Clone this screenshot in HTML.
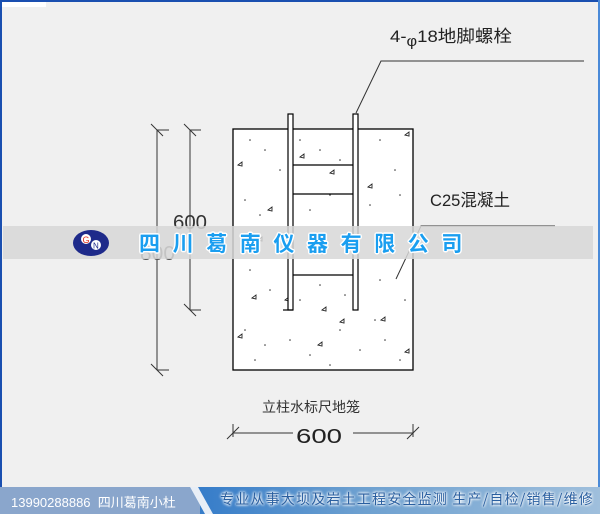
<!DOCTYPE html>
<html><head><meta charset="utf-8"><style>
html,body{margin:0;padding:0}
body{width:600px;height:514px;position:relative;overflow:hidden;background:#f0f0f0;font-family:"Liberation Sans","Noto Sans CJK SC",sans-serif}
.bl{position:absolute;background:#1a4fb0}
.banner{position:absolute;left:3px;top:226px;width:590px;height:33px;background:rgba(215,215,215,0.85)}
.bt{position:absolute;top:228px;left:139px;font:bold 21px "WenQuanYi Zen Hei","Noto Sans CJK SC",sans-serif;color:#1a9ef0;letter-spacing:12.6px;text-shadow:-1.5px 0 #fff,1.5px 0 #fff,0 -1.5px #fff,0 1.5px #fff,-1px -1px #fff,1px 1px #fff,-1px 1px #fff,1px -1px #fff;white-space:nowrap}
.foot{position:absolute;left:0;top:487px;width:600px;height:27px;background:linear-gradient(90deg,#2f78c8 30%,#6da0d0 60%,#9fbfdc 100%)}
.fl{position:absolute;left:0;top:487px;width:200px;height:27px;background:#8aa6cc;clip-path:polygon(0 0,190px 0,205px 27px,0 27px)}
.fs{position:absolute;left:0;top:487px;width:230px;height:27px;background:#e8eef6;clip-path:polygon(190px 0,198px 0,213px 27px,205px 27px)}
.ft{position:absolute;top:492px;font-size:13px;color:#fff;white-space:nowrap}
.fr{position:absolute;top:489px;left:220px;font:14px "Noto Sans CJK SC",sans-serif;letter-spacing:1.2px;color:#2a5fa0;white-space:nowrap;text-shadow:0 0 3px #fff,0 0 3px #fff,0 0 2px #fff}
</style></head><body>
<div class="bl" style="left:0;top:0;width:600px;height:2px"></div>
<div class="bl" style="left:0;top:0;width:2px;height:514px"></div>
<div class="bl" style="right:0;top:0;width:2px;height:514px;background:#4a8ad8"></div>
<div style="position:absolute;left:2px;top:2px;width:44px;height:5px;background:#fff"></div>
<svg width="600" height="514" style="position:absolute;left:0;top:0" xmlns="http://www.w3.org/2000/svg">
<rect x="233" y="129" width="180" height="241" fill="#fff" stroke="#000" stroke-width="1.3"/>
<g fill="#333">
<circle cx="250" cy="140" r="0.8"/><circle cx="265" cy="150" r="0.8"/><circle cx="280" cy="170" r="0.8"/><circle cx="300" cy="140" r="0.8"/><circle cx="320" cy="150" r="0.8"/><circle cx="340" cy="160" r="0.8"/><circle cx="380" cy="140" r="0.8"/><circle cx="395" cy="170" r="0.8"/><circle cx="245" cy="200" r="0.8"/><circle cx="260" cy="215" r="0.8"/><circle cx="310" cy="210" r="0.8"/><circle cx="330" cy="195" r="0.8"/><circle cx="370" cy="205" r="0.8"/><circle cx="400" cy="195" r="0.8"/><circle cx="250" cy="270" r="0.8"/><circle cx="270" cy="290" r="0.8"/><circle cx="300" cy="300" r="0.8"/><circle cx="320" cy="285" r="0.8"/><circle cx="345" cy="295" r="0.8"/><circle cx="380" cy="280" r="0.8"/><circle cx="405" cy="300" r="0.8"/><circle cx="245" cy="330" r="0.8"/><circle cx="265" cy="345" r="0.8"/><circle cx="290" cy="340" r="0.8"/><circle cx="310" cy="355" r="0.8"/><circle cx="340" cy="330" r="0.8"/><circle cx="360" cy="350" r="0.8"/><circle cx="385" cy="340" r="0.8"/><circle cx="400" cy="360" r="0.8"/><circle cx="255" cy="360" r="0.8"/><circle cx="330" cy="365" r="0.8"/><circle cx="375" cy="320" r="0.8"/>
</g>
<g fill="none" stroke="#222" stroke-width="0.9">
<path d="M238 165l4-3v4z"/><path d="M300 157l4-3v4z"/><path d="M330 173l4-3v4z"/><path d="M368 187l4-3v4z"/><path d="M258 240l4-3v4z"/><path d="M252 298l4-3v4z"/><path d="M285 300l4-3v4z"/><path d="M322 310l4-3v4z"/><path d="M381 320l4-3v4z"/><path d="M238 337l4-3v4z"/><path d="M318 345l4-3v4z"/><path d="M405 352l4-3v4z"/><path d="M340 322l4-3v4z"/><path d="M405 135l4-3v4z"/><path d="M268 210l4-3v4z"/>
</g>
<g stroke="#000" stroke-width="1.2" fill="none">
<rect x="288" y="114" width="5" height="196" fill="#fff"/>
<rect x="353" y="114" width="5" height="196" fill="#fff"/>
<line x1="293" y1="165" x2="353" y2="165"/>
<line x1="293" y1="194" x2="353" y2="194"/>
<line x1="293" y1="275" x2="353" y2="275"/>
<line x1="283" y1="310" x2="293" y2="310"/>
</g>
<g stroke="#333" stroke-width="1">
<polyline points="356,113 381,61 584,61" fill="none"/>
<polyline points="396,279 421,226 555,226" fill="none"/>
<line x1="157" y1="130" x2="157" y2="370"/><line x1="157" y1="130" x2="169" y2="130"/><line x1="151" y1="124" x2="163" y2="136"/>
<line x1="157" y1="370" x2="169" y2="370"/><line x1="151" y1="364" x2="163" y2="376"/>
<line x1="190" y1="130" x2="190" y2="310"/><line x1="190" y1="130" x2="201" y2="130"/><line x1="184" y1="124" x2="196" y2="136"/>
<line x1="190" y1="310" x2="201" y2="310"/><line x1="184" y1="304" x2="196" y2="316"/>
<line x1="233" y1="424" x2="233" y2="437"/><line x1="233" y1="433" x2="293" y2="433"/><line x1="227" y1="439" x2="239" y2="427"/>
<line x1="413" y1="424" x2="413" y2="437"/><line x1="353" y1="433" x2="413" y2="433"/><line x1="407" y1="439" x2="419" y2="427"/>
</g>
<g font-family="Liberation Sans,Noto Sans CJK SC,sans-serif" fill="#222">
<text x="390" y="42" font-size="17" textLength="122" lengthAdjust="spacingAndGlyphs">4-<tspan font-size="15" dy="4">φ</tspan><tspan dy="-4">18地脚螺栓</tspan></text>
<text x="430" y="206" font-size="17" textLength="80" lengthAdjust="spacingAndGlyphs">C25混凝土</text>
<text x="173" y="229" font-size="20" fill="#333" textLength="34" lengthAdjust="spacingAndGlyphs">600</text>
<text x="140" y="260" font-size="20" fill="#555" textLength="35" lengthAdjust="spacingAndGlyphs">800</text>
<text x="262" y="412" font-size="14" fill="#333">立柱水标尺地笼</text>
<text x="296" y="443" font-size="20" fill="#222" textLength="46" lengthAdjust="spacingAndGlyphs">600</text>
</g>
</svg>
<div class="banner"></div>
<svg width="50" height="30" style="position:absolute;left:72px;top:229px" xmlns="http://www.w3.org/2000/svg">
<ellipse cx="19" cy="14" rx="18" ry="13" fill="#1e2a8a"/>
<circle cx="14" cy="10" r="5" fill="#fff"/><text x="10.5" y="14" font-size="9" fill="#e03020" font-family="Liberation Sans">G</text>
<circle cx="24" cy="16" r="5" fill="#fff"/><text x="21" y="19.5" font-size="8" fill="#1e2a8a" font-family="Liberation Sans">N</text>
</svg>
<div class="bt">四川葛南仪器有限公司</div>
<div class="foot"></div><div class="fl"></div><div class="fs"></div>
<div class="ft" style="left:11px;font-family:'Liberation Sans','Noto Sans CJK SC',sans-serif">13990288886 &nbsp;四川葛南小杜</div>
<div class="fr">专业从事大坝及岩土工程安全监测 生产/自检/销售/维修</div>
</body></html>
